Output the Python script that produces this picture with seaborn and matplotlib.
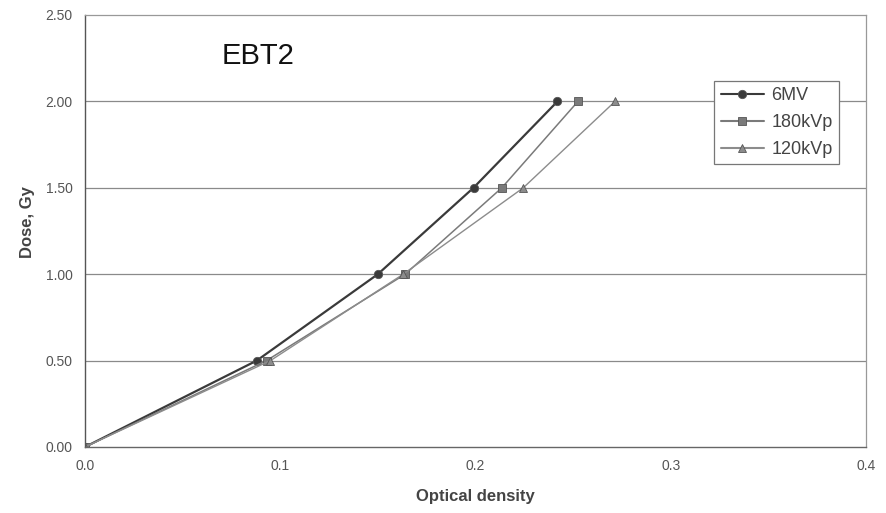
import matplotlib
matplotlib.use("Agg")
import matplotlib.pyplot as plt
import seaborn as sns
import pandas as pd

# Film calibration data (EBT2): dose vs. optical density for three beam qualities
dose = [0.0, 0.5, 1.0, 1.5, 2.0]
od_6mv = [0.0, 0.088, 0.150, 0.199, 0.242]
od_180kvp = [0.0, 0.093, 0.164, 0.2135, 0.2525]
od_120kvp = [0.0, 0.095, 0.163, 0.2245, 0.2715]
series = ["6MV", "180kVp", "120kVp"]

rows = []
for name, od in zip(series, [od_6mv, od_180kvp, od_120kvp]):
    for x, y in zip(od, dose):
        rows.append({"Optical density": x, "Dose, Gy": y, "Beam": name})
df = pd.DataFrame(rows)

sns.set_theme(style="white")
plt.rcParams["font.family"] = ["Liberation Sans", "DejaVu Sans"]

fig = plt.figure(figsize=(8.86, 5.13), dpi=100)
ax = fig.add_axes([0.0959, 0.1287, 0.8815, 0.8421])

palette = {"6MV": "#3a3a3a", "180kVp": "#7a7a7a", "120kVp": "#8c8c8c"}
markers = {"6MV": "o", "180kVp": "s", "120kVp": "^"}
sns.lineplot(data=df, x="Optical density", y="Dose, Gy", hue="Beam", style="Beam",
             hue_order=series, style_order=series, palette=palette,
             markers=markers, dashes=False, sort=False, ax=ax, legend=True,
             markersize=6, markeredgecolor="#555555", markeredgewidth=0.6)
for line, lw in zip(ax.lines[:3], [1.6, 1.1, 1.0]):
    line.set_linewidth(lw)

ax.set_xlim(0, 0.4)
ax.set_ylim(0, 2.5)
ax.set_xticks([0.0, 0.1, 0.2, 0.3, 0.4])
ax.set_xticklabels(["0.0", "0.1", "0.2", "0.3", "0.4"])
ax.set_yticks([0.0, 0.5, 1.0, 1.5, 2.0, 2.5])
ax.set_yticklabels(["0.00", "0.50", "1.00", "1.50", "2.00", "2.50"])
ax.tick_params(axis="both", labelsize=10, labelcolor="#555555", length=0, pad=9)

for yv in [0.5, 1.0, 1.5, 2.0]:
    ax.axhline(yv, color="#8a8a8a", lw=0.9, zorder=0)

ax.spines["left"].set_color("#555555")
ax.spines["left"].set_linewidth(1.0)
ax.spines["bottom"].set_color("#666666")
ax.spines["bottom"].set_linewidth(1.0)
ax.spines["bottom"].set_linestyle((0, (3, 1)))
for s in ["top", "right"]:
    ax.spines[s].set_color("#999999")
    ax.spines[s].set_linewidth(0.9)
    ax.spines[s].set_linestyle((0, (2, 1)))

ax.set_xlabel("Optical density", fontsize=12, fontweight="bold", color="#444444", labelpad=11)
ax.set_ylabel("Dose, Gy", fontsize=12, fontweight="bold", color="#444444")
ax.yaxis.set_label_coords(-0.064, 0.52)

ax.text(0.175, 0.905, "EBT2", transform=ax.transAxes, fontsize=21,
        color="#111111", va="center", ha="left")

leg = ax.legend(title=None, loc="upper left", bbox_to_anchor=(0.806, 0.848),
                frameon=True, fancybox=False, fontsize=13, labelcolor="#444444",
                handlelength=2.4, handletextpad=0.4, borderpad=0.35, labelspacing=0.55,
                borderaxespad=0)
leg.get_frame().set_edgecolor("#777777")
leg.get_frame().set_linewidth(0.9)
leg.get_frame().set_alpha(1.0)

fig.savefig("out.png", dpi=100)
